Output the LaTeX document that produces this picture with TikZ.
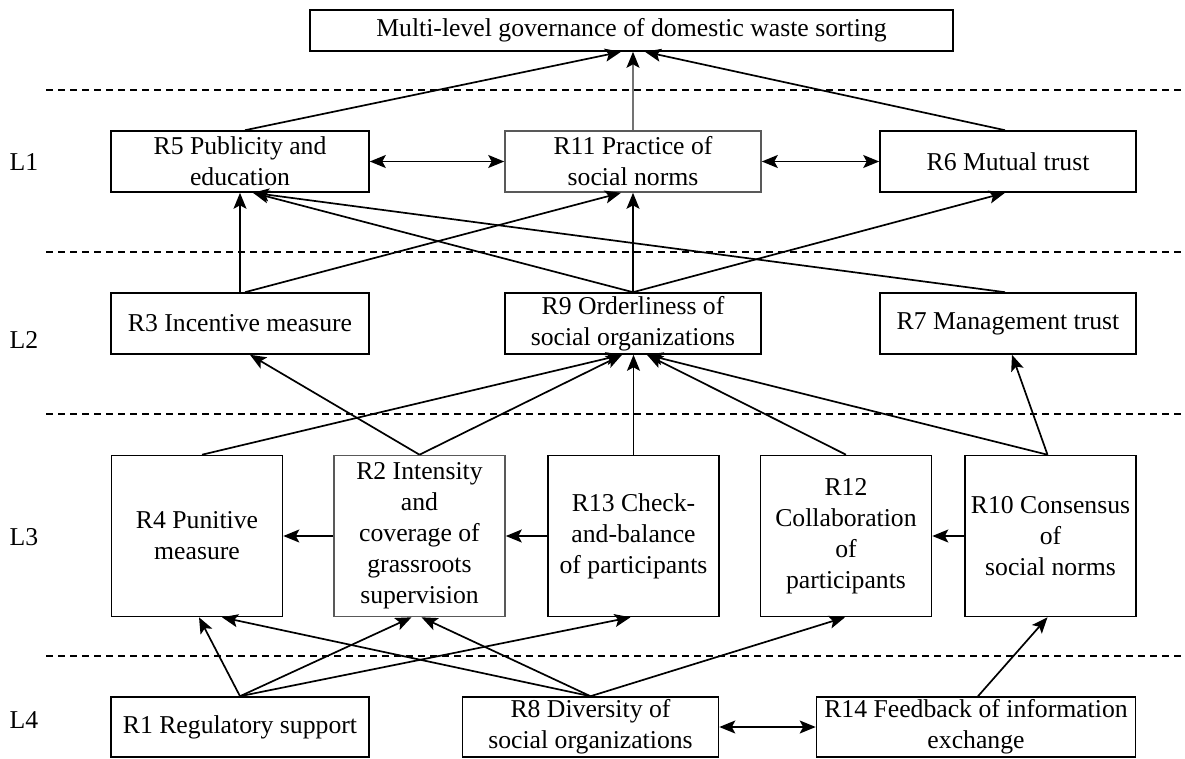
\documentclass[tikz,border=0pt]{standalone}
\usepackage{fontspec}
\setmainfont{Liberation Serif}
\usetikzlibrary{arrows.meta}

\begin{document}
\begin{tikzpicture}[
    x=1pt, y=-1pt,
    every node/.style={font=\fontsize{25.7}{31}\selectfont},
    box/.style={draw, line width=1.6pt, align=center, inner sep=0pt},
    rowbox/.style={box, minimum width=256pt, minimum height=61pt},
    tallbox/.style={box, minimum width=171pt, minimum height=161pt},
    flow/.style={-{Stealth[length=16pt, width=13pt, inset=3.5pt]}, line width=1.7pt},
    twoway/.style={{Stealth[length=16pt, width=13pt, inset=3.5pt]}-{Stealth[length=16pt, width=13pt, inset=3.5pt]}, line width=1.7pt},
    levelsep/.style={dash pattern=on 7pt off 5pt, line width=1.2pt}
]
\useasboundingbox (0,0) rectangle (1185,758);
\foreach \y in {90,252,414,656} \draw[levelsep] (46,\y) -- (1185,\y);

\node (l1) at (24,162) {L1};
\node (l2) at (24,340) {L2};
\node (l3) at (24,537) {L3};
\node (l4) at (24,720) {L4};

\node[box, minimum width=643pt, minimum height=41pt] (goal) at (631.5,30.5) {Multi-level governance of domestic waste sorting};
\node[rowbox, minimum width=258pt] (publicity) at (240,161.5) {R5 Publicity and\\education};
\node[rowbox, draw=black!65] (practice) at (633,161.5) {R11 Practice of\\social norms};
\node[rowbox] (trust) at (1008,161.5) {R6 Mutual trust};
\node[rowbox, minimum width=258pt] (incentive) at (240,323.5) {R3 Incentive measure};
\node[rowbox] (orderliness) at (633,323.5) {R9 Orderliness of\\social organizations};
\node[rowbox] (management) at (1008,323.5) {R7 Management trust};
\node[tallbox] (punitive) at (197,536) {R4 Punitive\\measure};
\node[tallbox, draw=black!65] (intensity) at (419.5,536) {R2 Intensity\\and\\coverage of\\grassroots\\supervision};
\node[tallbox] (checkbal) at (633.5,536) {R13 Check-\\and-balance\\of participants};
\node[tallbox] (collab) at (846,536) {R12\\Collaboration\\of\\participants};
\node[tallbox] (consensus) at (1050.5,536) {R10 Consensus\\of\\social norms};
\node[rowbox, minimum width=258pt, minimum height=60pt] (regulatory) at (240,727) {R1 Regulatory support};
\node[rowbox, minimum height=60pt] (diversity) at (590.5,727) {R8 Diversity of\\social organizations};
\node[rowbox, minimum width=319pt, minimum height=60pt] (feedback) at (976,727) {R14 Feedback of information\\exchange};

\draw[flow] ([xshift=5pt]publicity.north) -- ([xshift=-10.5pt]goal.south);
\draw[flow, draw=black!55, -{Stealth[length=16pt, width=13pt, inset=3.5pt, color=black]}] (practice.north) -- (practice.north |- goal.south);
\draw[flow] ([xshift=-3pt]trust.north) -- ([xshift=13.5pt]goal.south);
\draw[twoway] (publicity.east) -- (practice.west);
\draw[twoway] (practice.east) -- (trust.west);

\draw[flow] (incentive.north) -- (publicity.south);
\draw[flow] ([xshift=5pt]incentive.north) -- ([xshift=-12pt]practice.south);
\draw[flow] (orderliness.north) -- ([xshift=13pt]publicity.south);
\draw[flow] (orderliness.north) -- (practice.south);
\draw[flow] (orderliness.north) -- ([xshift=-3pt]trust.south);
\draw[flow] ([xshift=-3pt]management.north) -- ([xshift=13pt]publicity.south);

\draw[flow] ([xshift=5pt]punitive.north) -- ([xshift=-11pt]orderliness.south);
\draw[flow] (intensity.north) -- ([xshift=10pt]incentive.south);
\draw[flow] (intensity.north) -- ([xshift=-11pt]orderliness.south);
\draw[flow] (checkbal.north) -- (checkbal.north |- orderliness.south);
\draw[flow] (collab.north) -- ([xshift=14pt]orderliness.south);
\draw[flow] ([xshift=-3pt]consensus.north) -- ([xshift=14pt]orderliness.south);
\draw[flow] ([xshift=-3pt]consensus.north) -- ([xshift=4pt]management.south);
\draw[flow] (intensity.west) -- (punitive.east);
\draw[flow] (checkbal.west) -- (intensity.east);
\draw[flow] (consensus.west) -- (collab.east);

\draw[flow] (regulatory.north) -- ([xshift=2pt]punitive.south);
\draw[flow] (regulatory.north) -- ([xshift=-8pt]intensity.south);
\draw[flow] (regulatory.north) -- ([xshift=-3pt]checkbal.south);
\draw[flow] (diversity.north) -- ([xshift=25pt]punitive.south);
\draw[flow] (diversity.north) -- ([xshift=2pt]intensity.south);
\draw[flow] (diversity.north) -- ([xshift=-1pt]collab.south);
\draw[flow] ([xshift=2pt]feedback.north) -- ([xshift=-3pt]consensus.south);
\draw[twoway] (diversity.east) -- (feedback.west);
\end{tikzpicture}
\end{document}
